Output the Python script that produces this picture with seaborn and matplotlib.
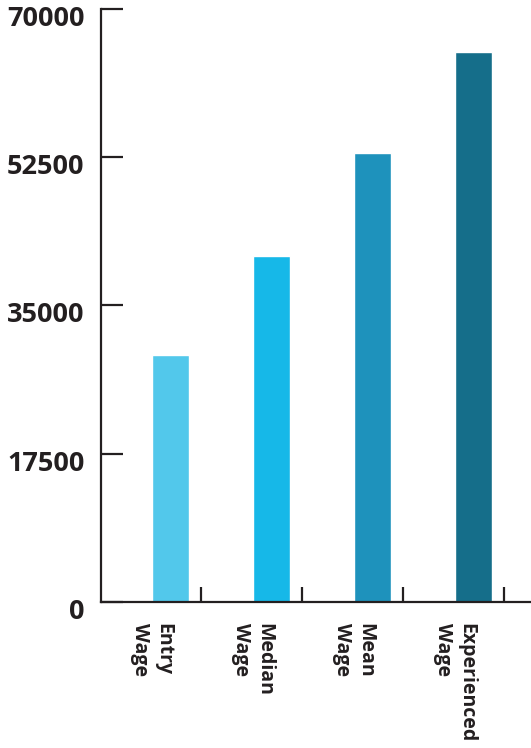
import matplotlib
matplotlib.use("Agg")
import matplotlib.pyplot as plt
import matplotlib.transforms as mtransforms
import seaborn as sns
import pandas as pd

categories = ["Entry\nWage", "Median\nWage", "Mean\nWage", "Experienced\nWage"]
wages = [29140, 40830, 53000, 64920]
colors = ["#52C8EB", "#16B8E8", "#1E92BC", "#156E8A"]
y_ticks = [0, 17500, 35000, 52500, 70000]

df = pd.DataFrame({"category": categories, "wage": wages})

sns.set_theme(style="white")
plt.rcParams["font.family"] = ["Open Sans", "DejaVu Sans"]

fig = plt.figure(figsize=(5.31, 7.48), dpi=100)
ax = fig.add_axes([101 / 531, 146.3 / 748, 1 - 101 / 531, (739 - 146.3) / 748])

sns.barplot(data=df, x="category", y="wage", hue="category", palette=colors,
            legend=False, width=0.36, dodge=False, ax=ax, saturation=1)

ink = "#231F20"
ax.set_xlim(-0.69, 3.57)
ax.set_ylim(0, 70000)
ax.set_xlabel("")
ax.set_ylabel("")
for s in ["top", "right"]:
    ax.spines[s].set_visible(False)
for s in ["left", "bottom"]:
    ax.spines[s].set_color(ink)
    ax.spines[s].set_linewidth(1.6)

# y ticks
ax.set_yticks(y_ticks)
ax.set_yticklabels([str(v) for v in y_ticks])
ax.tick_params(axis="y", direction="in", length=16, width=1.6, color=ink,
               pad=12, labelsize=19.5, labelcolor=ink, left=True)
offset = mtransforms.ScaledTranslation(0, -7 / 100, fig.dpi_scale_trans)
for lbl in ax.get_yticklabels():
    lbl.set_fontweight("bold")
    lbl.set_transform(lbl.get_transform() + offset)

# x ticks: boundaries as major ticks, labels as minor ticks
n = len(categories)
ax.set_xticks([i + 0.3 for i in range(n)])
ax.set_xticklabels([""] * n)
ax.tick_params(axis="x", which="major", direction="in", length=11, width=1.6,
               color=ink, bottom=True)
ax.set_xticks([i - 0.19 for i in range(n)], minor=True)
ax.set_xticklabels(categories, minor=True, rotation=-90, fontsize=14,
                   fontweight="bold", color=ink, va="top", ha="center",
                   multialignment="left", linespacing=1.2)
ax.tick_params(axis="x", which="minor", length=0, pad=15, bottom=True)

fig.savefig("out.png", dpi=100)
